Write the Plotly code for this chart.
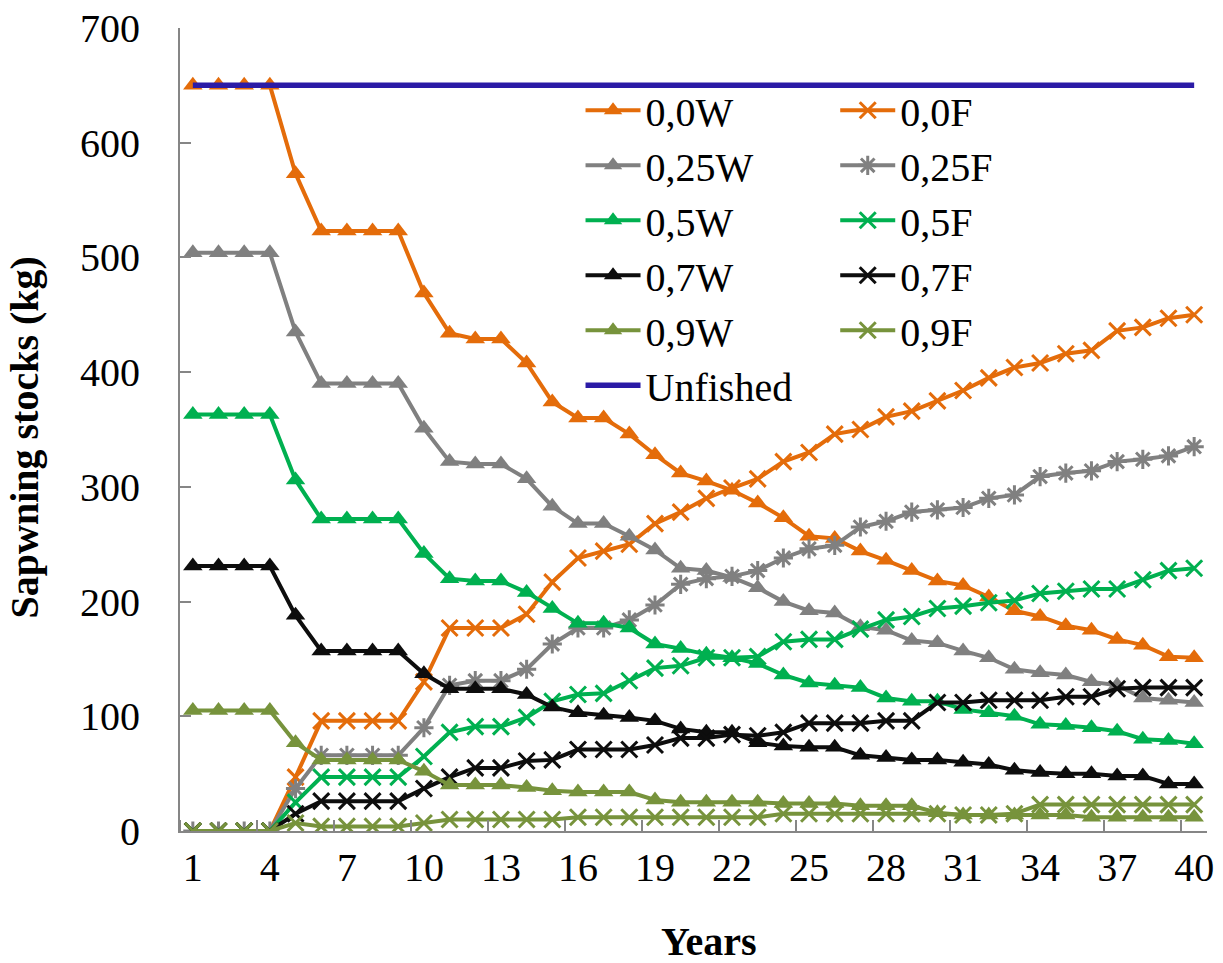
import plotly.graph_objects as go

# Years of the simulation (category axis 1..40)
years = list(range(1, 41))
tick_years = [1, 4, 7, 10, 13, 16, 19, 22, 25, 28, 31, 34, 37, 40]

# Spawning stock (kg) per scenario
s00W = [650, 650, 650, 650, 573, 523, 523, 523, 523, 469,
        434, 429, 429, 408, 374, 360, 360, 346, 328, 312,
        305, 297, 286, 273, 257, 255, 244, 236, 227, 218,
        214, 204, 192, 187, 179, 175, 167, 162, 152, 151]
s00F = [0, 0, 0, 0, 47, 96, 96, 96, 96, 130,
        177, 177, 177, 189, 217, 238, 244, 250, 268, 278,
        290, 299, 307, 322, 330, 346, 350, 361, 366, 375,
        384, 395, 404, 408, 416, 419, 436, 439, 447, 450]
s25W = [504, 504, 504, 504, 435, 390, 390, 390, 390, 351,
        322, 320, 320, 307, 283, 268, 268, 257, 245, 229,
        227, 221, 212, 200, 192, 190, 178, 175, 166, 164,
        157, 151, 141, 138, 136, 130, 127, 116, 114, 112]
s25F = [0, 0, 0, 0, 37, 66, 66, 66, 66, 90,
        127, 131, 131, 141, 163, 177, 177, 184, 197, 215,
        220, 222, 227, 238, 246, 249, 265, 270, 278, 280,
        282, 290, 293, 309, 312, 314, 322, 324, 327, 335]
s50W = [363, 363, 363, 363, 306, 272, 272, 272, 272, 242,
        220, 218, 218, 208, 194, 181, 181, 177, 163, 159,
        154, 151, 146, 136, 129, 127, 125, 116, 113, 113,
        106, 103, 100, 93, 92, 90, 87, 80, 79, 76]
s50F = [0, 0, 0, 0, 25, 47, 47, 47, 47, 65,
        86, 91, 91, 99, 113, 119, 120, 131, 142, 144,
        151, 151, 152, 165, 167, 167, 176, 184, 187, 194,
        196, 199, 201, 207, 209, 211, 211, 219, 227, 229]
s70W = [231, 231, 231, 231, 188, 157, 157, 157, 157, 137,
        124, 124, 124, 119, 108, 103, 101, 99, 96, 89,
        86, 86, 77, 74, 73, 73, 66, 64, 62, 62,
        60, 58, 53, 51, 50, 50, 48, 48, 41, 41]
s70F = [0, 0, 0, 0, 15, 26, 26, 26, 26, 37,
        47, 55, 55, 61, 62, 71, 71, 71, 75, 81,
        81, 84, 83, 86, 94, 94, 94, 96, 96, 112,
        112, 114, 114, 114, 117, 117, 124, 125, 125, 125]
s90W = [105, 105, 105, 105, 77, 62, 62, 62, 62, 52,
        40, 40, 40, 38, 35, 34, 34, 34, 27, 25,
        25, 25, 25, 24, 24, 24, 22, 22, 22, 16,
        14, 14, 14, 14, 14, 12, 12, 12, 12, 12]
s90F = [0, 0, 0, 0, 7, 4, 4, 4, 4, 7,
        10, 10, 10, 10, 10, 12, 12, 12, 12, 12,
        12, 12, 12, 15, 15, 15, 15, 15, 15, 15,
        14, 14, 15, 23, 23, 23, 23, 23, 23, 23]
unfished = [650] * 40

ORANGE = "#E46C0A"
GREY = "#808080"
GREEN = "#00B050"
BLACK = "#0D0D0D"
OLIVE = "#77933C"
BLUE = "#2B1BA6"

FONT = "Liberation Serif, Times New Roman, serif"

fig = go.Figure()


def add_w(name, vals, color):
    fig.add_trace(go.Scatter(
        x=years, y=vals, name=name, mode="lines+markers", legend="legend",
        line=dict(color=color, width=4),
        marker=dict(symbol="triangle-up", size=17, color=color),
    ))


def add_f(name, vals, color, symbol="x-thin"):
    fig.add_trace(go.Scatter(
        x=years, y=vals, name=name, mode="lines+markers", legend="legend2",
        line=dict(color=color, width=4),
        marker=dict(symbol=symbol, size=16, color=color,
                    line=dict(color=color, width=3)),
    ))


add_w("0,0W", s00W, ORANGE)
add_f("0,0F", s00F, ORANGE)
add_w("0,25W", s25W, GREY)
add_f("0,25F", s25F, GREY, "asterisk")
add_w("0,5W", s50W, GREEN)
add_f("0,5F", s50F, GREEN)
add_w("0,7W", s70W, BLACK)
add_f("0,7F", s70F, BLACK)
add_w("0,9W", s90W, OLIVE)
add_f("0,9F", s90F, OLIVE)
fig.add_trace(go.Scatter(
    x=years, y=unfished, name="Unfished", mode="lines", legend="legend",
    line=dict(color=BLUE, width=5.5),
))

legend_common = dict(
    font=dict(family=FONT, size=40, color="black"),
    bgcolor="rgba(0,0,0,0)", borderwidth=0,
    xanchor="left", yanchor="top", traceorder="normal",
    itemwidth=55,
)

fig.update_layout(
    width=1223, height=963,
    margin=dict(l=180, r=16, t=28, b=132),
    paper_bgcolor="white", plot_bgcolor="white",
    font=dict(family=FONT, size=40, color="black"),
    legend=dict(x=0.39, y=0.938, **legend_common),
    legend2=dict(x=0.638, y=0.938, **legend_common),
    xaxis=dict(
        range=[0.5, 40.5], tickmode="array", tickvals=tick_years,
        ticks="", showgrid=False, zeroline=False, automargin=False,
        showline=True, linecolor="#868686", linewidth=2,
        tickfont=dict(family=FONT, size=40, color="black"),
        ticklabelstandoff=0,
        minor=dict(tickmode="linear", tick0=0.5, dtick=3, ticks="inside",
                   ticklen=11, tickwidth=2, tickcolor="#868686", showgrid=False),
    ),
    yaxis=dict(
        range=[0, 700], tickmode="linear", tick0=0, dtick=100,
        ticks="inside", ticklen=11, tickwidth=2, tickcolor="#868686",
        showgrid=False, zeroline=False, automargin=False,
        showline=True, linecolor="#868686", linewidth=2,
        tickfont=dict(family=FONT, size=40, color="black"),
        ticklabelstandoff=30,
    ),
    annotations=[
        dict(text="<b>Sapwning stocks (kg)</b>", xref="paper", yref="paper",
             x=-0.151, y=0.49, textangle=-90, showarrow=False,
             xanchor="center", yanchor="middle",
             font=dict(family=FONT, size=40, color="black")),
        dict(text="<b>Years</b>", xref="paper", yref="paper",
             x=0.515, y=-0.138, showarrow=False,
             xanchor="center", yanchor="middle",
             font=dict(family=FONT, size=40, color="black")),
    ],
)

fig.write_html("out.html")
